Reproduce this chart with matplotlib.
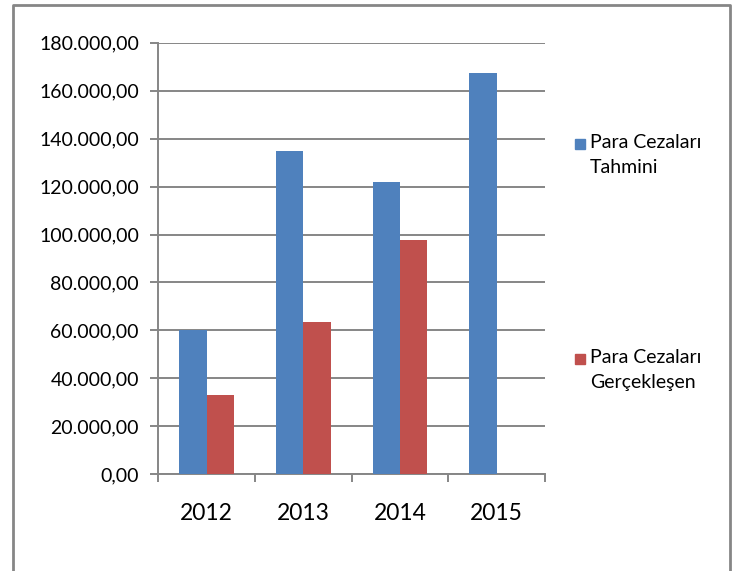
import matplotlib.pyplot as plt
from matplotlib.patches import Rectangle
from matplotlib.lines import Line2D
from matplotlib.ticker import FuncFormatter

years = ["2012", "2013", "2014", "2015"]
tahmini = [60000, 135000, 122000, 167500]
gerceklesen = [33200, 63600, 97600, None]
labels = ["Para Cezaları\nTahmini", "Para Cezaları\nGerçekleşen"]

blue = "#4F81BD"
red = "#C0504D"
gray = "#868686"

plt.rcParams['font.family'] = ['Lato', 'DejaVu Sans']

fig = plt.figure(figsize=(7.37, 5.71), dpi=100)
ax = fig.add_axes([0.2148, 0.1694, 0.5247, 0.7558])

w = 0.283
x = list(range(len(years)))
ax.bar([i - w / 2 for i in x], tahmini, width=w, color=blue, zorder=3)
ax.bar([i + w / 2 for i in x if gerceklesen[i] is not None],
       [v for v in gerceklesen if v is not None], width=w, color=red, zorder=3)

ax.set_xlim(-0.5, 3.5)
ax.set_ylim(0, 180000)
ax.set_yticks(range(0, 180001, 20000))


def tr_fmt(v, pos):
    s = "{:,.2f}".format(v)
    return s.replace(",", "X").replace(".", ",").replace("X", ".")


ax.yaxis.set_major_formatter(FuncFormatter(tr_fmt))
ax.grid(axis='y', color=gray, linewidth=1.4, zorder=0)

ax.set_xticks(x)
ax.set_xticklabels(years, fontsize=16.5)
ax.set_xticks([-0.5, 0.5, 1.5, 2.5, 3.5], minor=True)
ax.tick_params(axis='x', which='major', length=0, pad=21)
ax.tick_params(axis='x', which='minor', length=6, color=gray, width=1.4)
ax.tick_params(axis='y', length=6, color=gray, width=1.4, labelsize=14, pad=8)

for side in ['top', 'right']:
    ax.spines[side].set_visible(False)
for side in ['left', 'bottom']:
    ax.spines[side].set_color(gray)
    ax.spines[side].set_linewidth(1.4)

# legend drawn by hand
W, H = 737.0, 571.0
for col, lab, yc in [(blue, labels[0], 144), (red, labels[1], 359)]:
    fig.add_artist(Rectangle((575 / W, 1 - (yc + 5) / H), 10 / W, 10 / H,
                             transform=fig.transFigure, color=col))
    fig.text(590 / W, 1 - (yc - 10) / H, lab, fontsize=14, va='top',
             ha='left', linespacing=1.6)

# outer frame (no bottom edge visible)
fig.add_artist(Line2D([13 / W, 13 / W, 730 / W, 730 / W],
                      [0, 1 - 5 / H, 1 - 5 / H, 0],
                      transform=fig.transFigure, color=gray, linewidth=2))

fig.savefig("out.png", dpi=100)
